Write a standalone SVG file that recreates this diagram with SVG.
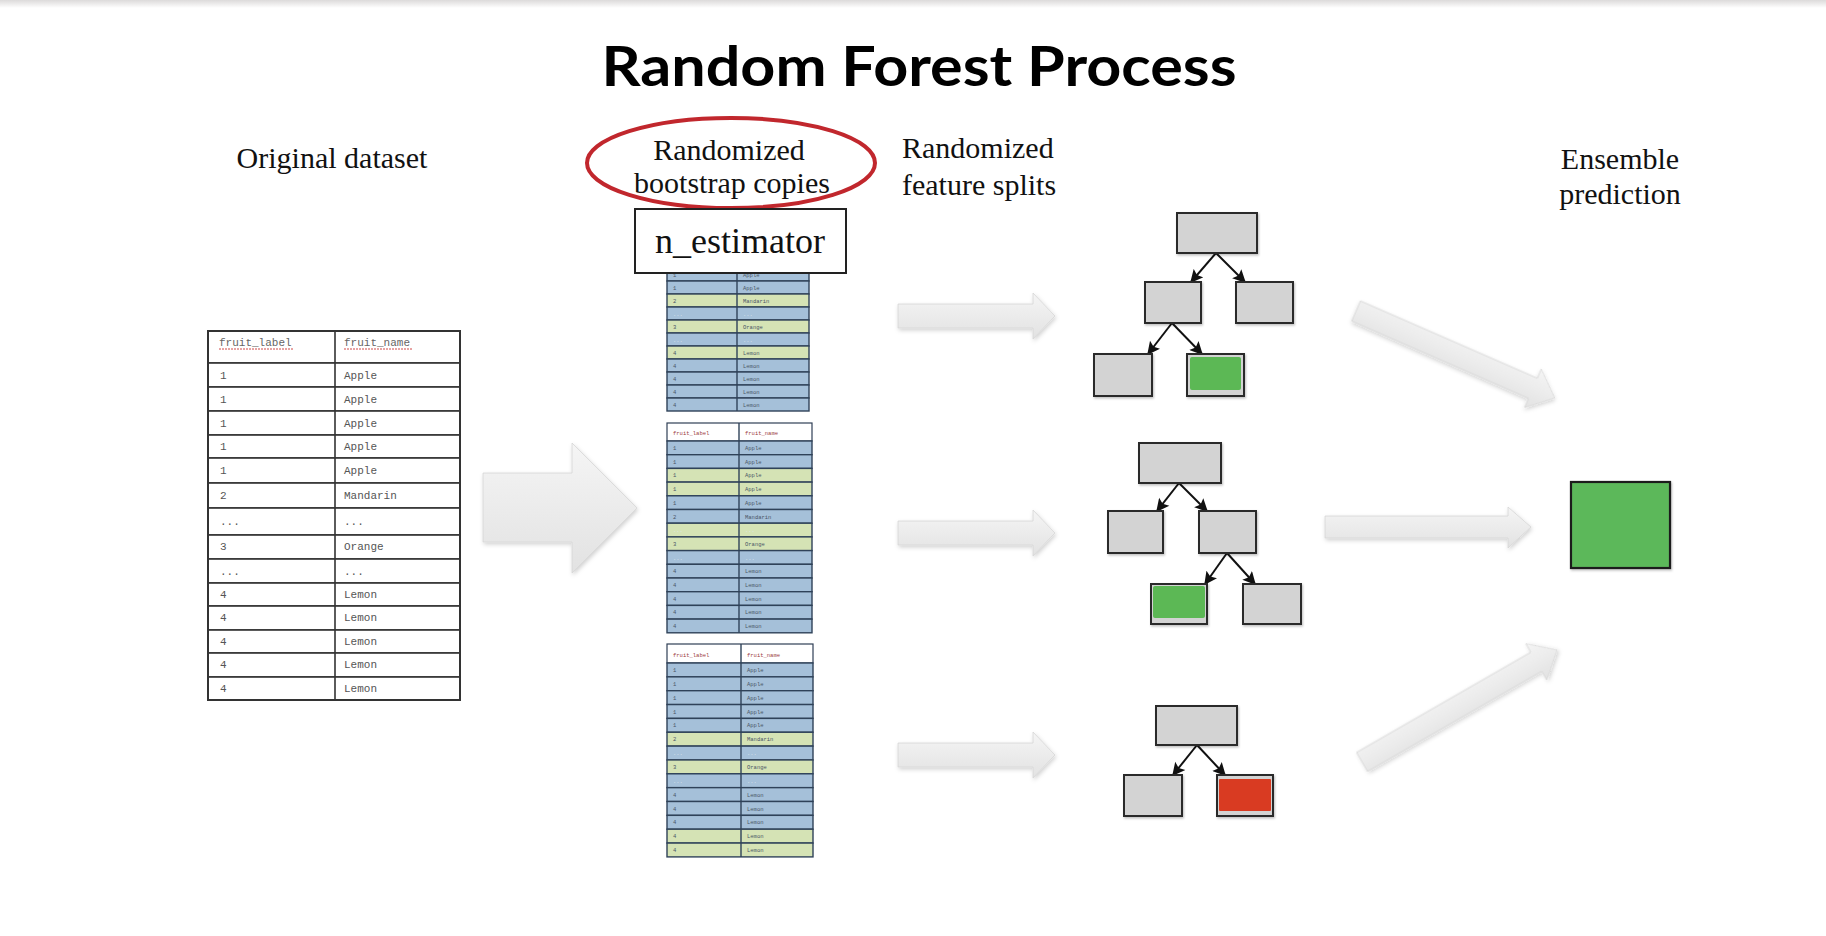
<svg xmlns="http://www.w3.org/2000/svg" width="1826" height="936" viewBox="0 0 1826 936">
  <style>
    .title { font-family: "Lato", "Open Sans", sans-serif; font-weight: 700; font-size: 56px; fill: #000; }
    .lbl { font-family: "Liberation Serif", "DejaVu Serif", serif; font-size: 30px; fill: #111; }
    .est { font-family: "Liberation Serif", "DejaVu Serif", serif; font-size: 36px; fill: #111; }
    .ot { fill: #fff; stroke: #333; stroke-width: 1.6; }
    .om { font-family: "Liberation Mono", "DejaVu Sans Mono", monospace; font-size: 11px; fill: #555; }
    .omh { font-family: "Liberation Mono", "DejaVu Sans Mono", monospace; font-size: 11px; fill: #666; }
    .squig { stroke: #d04848; stroke-width: 1; stroke-dasharray: 2 1; }
    .hd { fill: #fff; stroke: #2f3f55; stroke-width: 1.2; }
    .bl { fill: #a5c0d9; stroke: #2f4259; stroke-width: 1.4; }
    .gr { fill: #d5e3b5; stroke: #2f4259; stroke-width: 1.4; }
    .ct { font-family: "Liberation Mono", "DejaVu Sans Mono", monospace; font-size: 5.5px; fill: #4a5566; }
    .cth { font-family: "Liberation Mono", "DejaVu Sans Mono", monospace; font-size: 5.5px; fill: #9a3a3a; }
    .cdot { font-family: "Liberation Mono", "DejaVu Sans Mono", monospace; font-size: 5.5px; fill: #dfe6ee; }
    .div { stroke: #2f4259; stroke-width: 1.4; }
    .nd { fill: #d3d3d3; stroke: #2a2a2a; stroke-width: 2; }
    .grn { fill: #5bb855; }
    .red { fill: #d93a22; }
    .edge { stroke: #111; stroke-width: 2; fill: none; marker-end: url(#ah); }
    .bigar { fill: url(#arrowFill); stroke: #d6d6d6; stroke-width: 0.8; filter: url(#soft); }
  </style>
  <defs>
    <linearGradient id="arrowFill" x1="0" y1="0" x2="0" y2="1">
      <stop offset="0" stop-color="#f5f5f5"/>
      <stop offset="1" stop-color="#e2e2e2"/>
    </linearGradient>
    <linearGradient id="topBand" x1="0" y1="0" x2="0" y2="1">
      <stop offset="0" stop-color="#dcdada"/>
      <stop offset="1" stop-color="#ffffff"/>
    </linearGradient>
    <filter id="soft" x="-10%" y="-20%" width="130%" height="150%">
      <feDropShadow dx="1" dy="2" stdDeviation="2" flood-color="#000" flood-opacity="0.18"/>
    </filter>
    <filter id="nshadow" x="-10%" y="-10%" width="130%" height="130%">
      <feDropShadow dx="1" dy="1.5" stdDeviation="1" flood-color="#000" flood-opacity="0.25"/>
    </filter>
    <marker id="ah" viewBox="0 0 10 10" refX="9" refY="5" markerWidth="14" markerHeight="13" orient="auto" markerUnits="userSpaceOnUse">
      <path d="M0,0 L10,5 L0,10 L2,5 Z" fill="#111"/>
    </marker>
  </defs>

  <rect width="1826" height="936" fill="#fff"/>
  <rect width="1826" height="8" fill="url(#topBand)"/>

  <text class="title" x="919" y="86" text-anchor="middle" textLength="635" lengthAdjust="spacingAndGlyphs">Random Forest Process</text>

  <!-- column headings -->
  <g id="headings">
    <text class="lbl" x="332" y="168" text-anchor="middle">Original dataset</text>
    <text class="lbl" x="729" y="160" text-anchor="middle">Randomized</text>
    <text class="lbl" x="732" y="193" text-anchor="middle">bootstrap copies</text>
    <text class="lbl" x="902" y="158">Randomized</text>
    <text class="lbl" x="902" y="195">feature splits</text>
    <text class="lbl" x="1620" y="169" text-anchor="middle">Ensemble</text>
    <text class="lbl" x="1620" y="204" text-anchor="middle">prediction</text>
  </g>

  <!-- original dataset table -->
  <g id="original-dataset">
    <rect class="ot" x="208" y="331" width="252" height="32"/>
    <rect class="ot" x="208" y="363" width="252" height="24"/>
    <rect class="ot" x="208" y="387" width="252" height="24"/>
    <rect class="ot" x="208" y="411" width="252" height="24"/>
    <rect class="ot" x="208" y="435" width="252" height="23"/>
    <rect class="ot" x="208" y="458" width="252" height="25"/>
    <rect class="ot" x="208" y="483" width="252" height="25"/>
    <rect class="ot" x="208" y="508" width="252" height="27"/>
    <rect class="ot" x="208" y="535" width="252" height="24"/>
    <rect class="ot" x="208" y="559" width="252" height="24"/>
    <rect class="ot" x="208" y="583" width="252" height="23"/>
    <rect class="ot" x="208" y="606" width="252" height="24"/>
    <rect class="ot" x="208" y="630" width="252" height="23"/>
    <rect class="ot" x="208" y="653" width="252" height="24"/>
    <rect class="ot" x="208" y="677" width="252" height="23"/>
    <line x1="335" y1="331" x2="335" y2="700" stroke="#333" stroke-width="1.6"/>
    <rect x="208" y="331" width="252" height="369" fill="none" stroke="#333" stroke-width="2"/>
    <text class="omh" x="219" y="346">fruit_label</text>
    <text class="omh" x="344" y="346">fruit_name</text>
    <line class="squig" x1="219" y1="349" x2="294" y2="349"/>
    <line class="squig" x1="344" y1="349" x2="412" y2="349"/>
    <text class="om" x="220" y="379">1</text><text class="om" x="344" y="379">Apple</text>
    <text class="om" x="220" y="403">1</text><text class="om" x="344" y="403">Apple</text>
    <text class="om" x="220" y="427">1</text><text class="om" x="344" y="427">Apple</text>
    <text class="om" x="220" y="450">1</text><text class="om" x="344" y="450">Apple</text>
    <text class="om" x="220" y="474">1</text><text class="om" x="344" y="474">Apple</text>
    <text class="om" x="220" y="499">2</text><text class="om" x="344" y="499">Mandarin</text>
    <text class="om" x="220" y="525">...</text><text class="om" x="344" y="525">...</text>
    <text class="om" x="220" y="550">3</text><text class="om" x="344" y="550">Orange</text>
    <text class="om" x="220" y="575">...</text><text class="om" x="344" y="575">...</text>
    <text class="om" x="220" y="598">4</text><text class="om" x="344" y="598">Lemon</text>
    <text class="om" x="220" y="621">4</text><text class="om" x="344" y="621">Lemon</text>
    <text class="om" x="220" y="645">4</text><text class="om" x="344" y="645">Lemon</text>
    <text class="om" x="220" y="668">4</text><text class="om" x="344" y="668">Lemon</text>
    <text class="om" x="220" y="692">4</text><text class="om" x="344" y="692">Lemon</text>
  </g>

  <!-- bootstrap copy 1 (top, partly under the n_estimator label) -->
  <g id="copy-1" transform="translate(667,211)">
    <rect class="hd" x="0" y="0" width="142" height="18"/>
    <rect class="bl" x="0" y="18" width="142" height="13"/>
    <rect class="bl" x="0" y="31" width="142" height="13"/>
    <rect class="bl" x="0" y="44" width="142" height="13"/>
    <rect class="bl" x="0" y="57" width="142" height="13"/>
    <rect class="bl" x="0" y="70" width="142" height="13"/>
    <rect class="gr" x="0" y="83" width="142" height="13"/>
    <rect class="bl" x="0" y="96" width="142" height="13"/>
    <rect class="gr" x="0" y="109" width="142" height="13"/>
    <rect class="bl" x="0" y="122" width="142" height="13"/>
    <rect class="gr" x="0" y="135" width="142" height="13"/>
    <rect class="bl" x="0" y="148" width="142" height="13"/>
    <rect class="bl" x="0" y="161" width="142" height="13"/>
    <rect class="bl" x="0" y="174" width="142" height="13"/>
    <rect class="bl" x="0" y="187" width="142" height="13"/>
    <line class="div" x1="70" y1="0" x2="70" y2="200"/>
    <text class="ct" x="6" y="66">1</text><text class="ct" x="76" y="66">Apple</text>
    <text class="ct" x="6" y="79">1</text><text class="ct" x="76" y="79">Apple</text>
    <text class="ct" x="6" y="92">2</text><text class="ct" x="76" y="92">Mandarin</text>
    <text class="cdot" x="6" y="105">...</text><text class="cdot" x="76" y="105">...</text>
    <text class="ct" x="6" y="118">3</text><text class="ct" x="76" y="118">Orange</text>
    <text class="cdot" x="6" y="131">...</text><text class="cdot" x="76" y="131">...</text>
    <text class="ct" x="6" y="144">4</text><text class="ct" x="76" y="144">Lemon</text>
    <text class="ct" x="6" y="157">4</text><text class="ct" x="76" y="157">Lemon</text>
    <text class="ct" x="6" y="170">4</text><text class="ct" x="76" y="170">Lemon</text>
    <text class="ct" x="6" y="183">4</text><text class="ct" x="76" y="183">Lemon</text>
    <text class="ct" x="6" y="196">4</text><text class="ct" x="76" y="196">Lemon</text>
  </g>

  <!-- red highlight round the copies heading, and the n_estimator label -->
  <ellipse cx="731" cy="163" rx="144" ry="45" fill="none" stroke="#c1272d" stroke-width="4"/>
  <g id="n-estimator">
    <rect x="635" y="209" width="211" height="64" fill="#fff" stroke="#222" stroke-width="2"/>
    <text class="est" x="740" y="253" text-anchor="middle">n_estimator</text>
  </g>

  <!-- bootstrap copy 2 -->
  <g id="copy-2" transform="translate(667,423)">
    <rect class="hd" x="0" y="0" width="145" height="18"/>
    <rect class="bl" x="0" y="18" width="145" height="13.7"/>
    <rect class="bl" x="0" y="31.7" width="145" height="13.7"/>
    <rect class="gr" x="0" y="45.4" width="145" height="13.7"/>
    <rect class="gr" x="0" y="59.1" width="145" height="13.7"/>
    <rect class="bl" x="0" y="72.8" width="145" height="13.7"/>
    <rect class="bl" x="0" y="86.5" width="145" height="13.7"/>
    <rect class="gr" x="0" y="100.2" width="145" height="13.7"/>
    <rect class="gr" x="0" y="113.9" width="145" height="13.7"/>
    <rect class="bl" x="0" y="127.6" width="145" height="13.7"/>
    <rect class="bl" x="0" y="141.3" width="145" height="13.7"/>
    <rect class="bl" x="0" y="155" width="145" height="13.7"/>
    <rect class="bl" x="0" y="168.7" width="145" height="13.7"/>
    <rect class="bl" x="0" y="182.4" width="145" height="13.7"/>
    <rect class="bl" x="0" y="196.1" width="145" height="13.7"/>
    <line class="div" x1="72" y1="0" x2="72" y2="209.8"/>
    <text class="cth" x="6" y="12">fruit_label</text><text class="cth" x="78" y="12">fruit_name</text>
    <text class="ct" x="6" y="27">1</text><text class="ct" x="78" y="27">Apple</text>
    <text class="ct" x="6" y="40.7">1</text><text class="ct" x="78" y="40.7">Apple</text>
    <text class="ct" x="6" y="54.4">1</text><text class="ct" x="78" y="54.4">Apple</text>
    <text class="ct" x="6" y="68.1">1</text><text class="ct" x="78" y="68.1">Apple</text>
    <text class="ct" x="6" y="81.8">1</text><text class="ct" x="78" y="81.8">Apple</text>
    <text class="ct" x="6" y="95.5">2</text><text class="ct" x="78" y="95.5">Mandarin</text>
    <text class="cdot" x="6" y="109.2">...</text><text class="cdot" x="78" y="109.2">...</text>
    <text class="ct" x="6" y="122.9">3</text><text class="ct" x="78" y="122.9">Orange</text>
    <text class="cdot" x="6" y="136.6">...</text><text class="cdot" x="78" y="136.6">...</text>
    <text class="ct" x="6" y="150.3">4</text><text class="ct" x="78" y="150.3">Lemon</text>
    <text class="ct" x="6" y="164">4</text><text class="ct" x="78" y="164">Lemon</text>
    <text class="ct" x="6" y="177.7">4</text><text class="ct" x="78" y="177.7">Lemon</text>
    <text class="ct" x="6" y="191.4">4</text><text class="ct" x="78" y="191.4">Lemon</text>
    <text class="ct" x="6" y="205.1">4</text><text class="ct" x="78" y="205.1">Lemon</text>
  </g>

  <!-- bootstrap copy 3 -->
  <g id="copy-3" transform="translate(667,644)">
    <rect class="hd" x="0" y="0" width="146" height="19"/>
    <rect class="bl" x="0" y="19" width="146" height="13.85"/>
    <rect class="bl" x="0" y="32.85" width="146" height="13.85"/>
    <rect class="bl" x="0" y="46.7" width="146" height="13.85"/>
    <rect class="bl" x="0" y="60.55" width="146" height="13.85"/>
    <rect class="bl" x="0" y="74.4" width="146" height="13.85"/>
    <rect class="gr" x="0" y="88.25" width="146" height="13.85"/>
    <rect class="bl" x="0" y="102.1" width="146" height="13.85"/>
    <rect class="gr" x="0" y="115.95" width="146" height="13.85"/>
    <rect class="bl" x="0" y="129.8" width="146" height="13.85"/>
    <rect class="bl" x="0" y="143.65" width="146" height="13.85"/>
    <rect class="bl" x="0" y="157.5" width="146" height="13.85"/>
    <rect class="bl" x="0" y="171.35" width="146" height="13.85"/>
    <rect class="gr" x="0" y="185.2" width="146" height="13.85"/>
    <rect class="gr" x="0" y="199.05" width="146" height="13.85"/>
    <line class="div" x1="74" y1="0" x2="74" y2="212.9"/>
    <text class="cth" x="6" y="12.5">fruit_label</text><text class="cth" x="80" y="12.5">fruit_name</text>
    <text class="ct" x="6" y="28">1</text><text class="ct" x="80" y="28">Apple</text>
    <text class="ct" x="6" y="41.85">1</text><text class="ct" x="80" y="41.85">Apple</text>
    <text class="ct" x="6" y="55.7">1</text><text class="ct" x="80" y="55.7">Apple</text>
    <text class="ct" x="6" y="69.55">1</text><text class="ct" x="80" y="69.55">Apple</text>
    <text class="ct" x="6" y="83.4">1</text><text class="ct" x="80" y="83.4">Apple</text>
    <text class="ct" x="6" y="97.25">2</text><text class="ct" x="80" y="97.25">Mandarin</text>
    <text class="cdot" x="6" y="111.1">...</text><text class="cdot" x="80" y="111.1">...</text>
    <text class="ct" x="6" y="124.95">3</text><text class="ct" x="80" y="124.95">Orange</text>
    <text class="cdot" x="6" y="138.8">...</text><text class="cdot" x="80" y="138.8">...</text>
    <text class="ct" x="6" y="152.65">4</text><text class="ct" x="80" y="152.65">Lemon</text>
    <text class="ct" x="6" y="166.5">4</text><text class="ct" x="80" y="166.5">Lemon</text>
    <text class="ct" x="6" y="180.35">4</text><text class="ct" x="80" y="180.35">Lemon</text>
    <text class="ct" x="6" y="194.2">4</text><text class="ct" x="80" y="194.2">Lemon</text>
    <text class="ct" x="6" y="208.05">4</text><text class="ct" x="80" y="208.05">Lemon</text>
  </g>

  <!-- block arrows between the stages -->
  <g id="connectors">
    <path class="bigar" d="M483,473 H572 V443 L637,508 L572,573 V542 H483 Z"/>
    <path class="bigar" d="M898,304 H1033 V293 L1055,316 L1033,339 V328 H898 Z"/>
    <path class="bigar" d="M898,521 H1033 V510 L1055,533 L1033,556 V545 H898 Z"/>
    <path class="bigar" d="M898,743 H1033 V732 L1055,755 L1033,778 V767 H898 Z"/>
    <path class="bigar" transform="translate(1356,311) rotate(23.6)" d="M0,-11 H193 V-21 L217,0 L193,21 V11 H0 Z"/>
    <path class="bigar" d="M1325,516 H1508 V507 L1531,527 L1508,548 V538 H1325 Z"/>
    <path class="bigar" transform="translate(1362,762) rotate(-29.9)" d="M0,-11 H201 V-21 L225,0 L201,21 V11 H0 Z"/>

    <!-- tree edges -->
    <line class="edge" x1="1216" y1="253" x2="1191" y2="282"/>
    <line class="edge" x1="1216" y1="253" x2="1245" y2="282"/>
    <line class="edge" x1="1172" y1="323" x2="1148" y2="354"/>
    <line class="edge" x1="1172" y1="323" x2="1202" y2="354"/>
    <line class="edge" x1="1179" y1="483" x2="1157" y2="511"/>
    <line class="edge" x1="1179" y1="483" x2="1207" y2="511"/>
    <line class="edge" x1="1227" y1="553" x2="1205" y2="584"/>
    <line class="edge" x1="1227" y1="553" x2="1255" y2="584"/>
    <line class="edge" x1="1197" y1="745" x2="1173" y2="775"/>
    <line class="edge" x1="1197" y1="745" x2="1225" y2="775"/>
  </g>

  <!-- tree 1 -->
  <g id="tree-1" filter="url(#nshadow)">
    <rect class="nd" x="1177" y="213" width="80" height="40"/>
    <rect class="nd" x="1145" y="282" width="56" height="41"/>
    <rect class="nd" x="1236" y="282" width="57" height="41"/>
    <rect class="nd" x="1094" y="354" width="58" height="42"/>
    <rect class="nd" x="1187" y="354" width="57" height="42"/>
    <rect class="grn" x="1190" y="357" width="51" height="33" rx="2"/>
  </g>

  <!-- tree 2 -->
  <g id="tree-2" filter="url(#nshadow)">
    <rect class="nd" x="1139" y="443" width="82" height="40"/>
    <rect class="nd" x="1108" y="511" width="55" height="42"/>
    <rect class="nd" x="1199" y="511" width="57" height="42"/>
    <rect class="nd" x="1151" y="584" width="56" height="40"/>
    <rect class="nd" x="1243" y="584" width="58" height="40"/>
    <rect class="grn" x="1153" y="586" width="52" height="32" rx="2"/>
  </g>

  <!-- tree 3 -->
  <g id="tree-3" filter="url(#nshadow)">
    <rect class="nd" x="1156" y="706" width="81" height="39"/>
    <rect class="nd" x="1124" y="775" width="58" height="41"/>
    <rect class="nd" x="1217" y="775" width="56" height="41"/>
    <rect class="red" x="1219" y="779" width="52" height="32" rx="1"/>
  </g>

  <!-- ensemble result -->
  <g id="ensemble-result">
    <rect x="1571" y="482" width="99" height="86" fill="#5cb85a" stroke="#1e1e1e" stroke-width="2.2" filter="url(#nshadow)"/>
  </g>
</svg>
